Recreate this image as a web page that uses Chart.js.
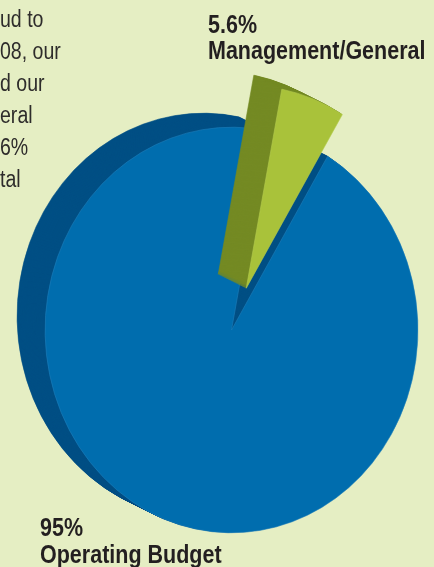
<!DOCTYPE html>
<html>
<head>
<meta charset="utf-8">
<script src="https://cdn.jsdelivr.net/npm/chart.js@4.4.1/dist/chart.umd.min.js"></script>
<style>
    html, body { margin: 0; padding: 0; background: #E5EEC3; }
    #wrap { position: relative; width: 434px; height: 567px; overflow: hidden; }
    canvas { position: absolute; left: 0; top: 0; }
    .txt {
        position: absolute;
        font-family: "Liberation Sans", Arial, sans-serif;
        color: #231F20;
        white-space: nowrap;
        transform-origin: 0 0;
    }
    .intro { left: 0; top: 3px; font-size: 23px; line-height: 32px; color: #2E2C2B; transform: scaleX(0.85); }
    .lbl { font-weight: bold; font-size: 25px; line-height: 26px; transform: scaleX(0.86); }
</style>
</head>
<body>
<div id="wrap">
    <canvas id="budgetPie" width="434" height="567"></canvas>
    <div class="txt intro">ud to<br>08, our<br>d our<br>eral<br>6%<br>tal</div>
    <div class="txt lbl" style="left:208px; top:11px;">5.6%<br>Management/General</div>
    <div class="txt lbl" style="left:40px; top:514px; line-height:27px;">95%<br>Operating Budget</div>
</div>
<script>
const CATEGORIES = ['Management/General', 'Operating Budget'];
const SHARES = [5.6, 95];
const TOP_COLORS = ['#A9C23A', '#006DAE'];
const SIDE_COLORS = ['#748A23', '#014F84'];
const EDGE_COLORS = ['#B4CB4E', '#1D7DBA'];

// fake 3D: the top face is squashed a little and the body is pushed up-left
const TILT = { x: 0.956, y: 1.04 };
const DEPTH = { x: -28, y: -14 };
const EXPLODE = [43, 0];

const extrudePlugin = {
    id: 'extrude',
    beforeDatasetsDraw(chart) {
        const ctx = chart.ctx;
        const meta = chart.getDatasetMeta(0);
        // back slice first, exploded slice on top
        [1, 0].forEach(i => {
            const arc = meta.data[i];
            const mid = (arc.startAngle + arc.endAngle) / 2;
            const ex = Math.cos(mid) * EXPLODE[i];
            const ey = Math.sin(mid) * EXPLODE[i];
            const paint = (dx, dy, color) => {
                const saved = arc.options;
                if (color) {
                    arc.options = Object.assign({}, saved, { backgroundColor: color, borderColor: color });
                }
                ctx.save();
                ctx.translate(arc.x + dx, arc.y + dy);
                ctx.scale(TILT.x, TILT.y);
                ctx.translate(ex - arc.x, ey - arc.y);
                arc.draw(ctx);
                ctx.restore();
                arc.options = saved;
            };
            const steps = 30;
            for (let s = steps; s >= 1; s--) {
                paint(DEPTH.x * s / steps, DEPTH.y * s / steps, SIDE_COLORS[i]);
            }
            paint(0, 0, null);
        });
        return false;
    }
};

new Chart(document.getElementById('budgetPie'), {
    type: 'pie',
    data: {
        labels: CATEGORIES,
        datasets: [{
            data: SHARES,
            backgroundColor: TOP_COLORS,
            borderColor: EDGE_COLORS,
            borderWidth: 0.6
        }]
    },
    plugins: [extrudePlugin],
    options: {
        responsive: false,
        animation: false,
        events: [],
        rotation: 11,
        radius: 195,
        layout: { padding: { left: 29, right: 0, top: 93, bottom: 0 } },
        plugins: {
            legend: { display: false },
            tooltip: { enabled: false },
            title: { display: false }
        }
    }
});
</script>
</body>
</html>
